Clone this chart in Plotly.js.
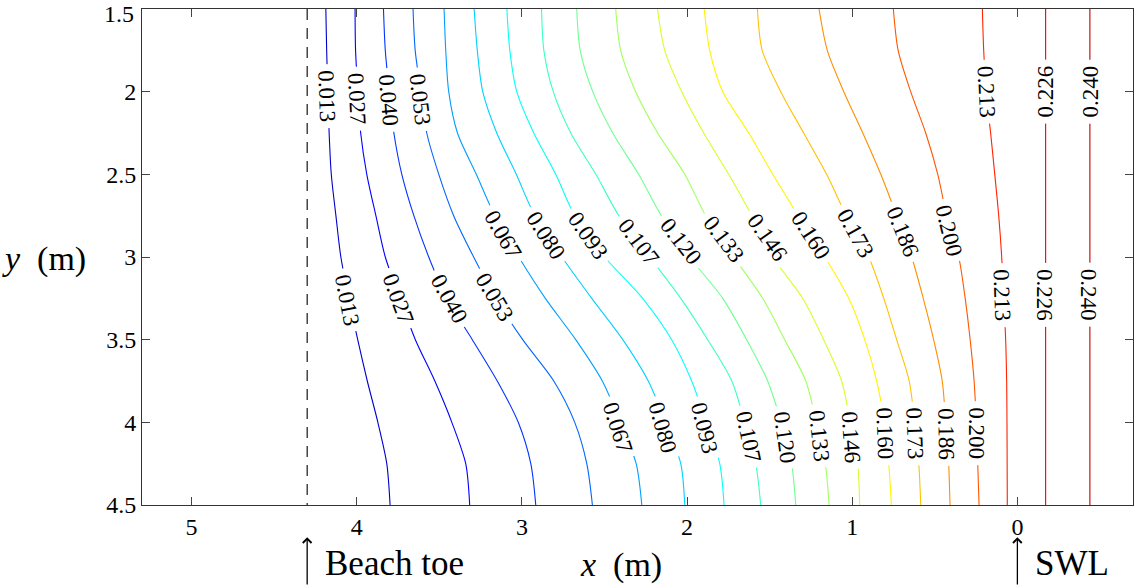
<!DOCTYPE html>
<html>
<head>
<meta charset="utf-8">
<script src="https://cdn.plot.ly/plotly-3.0.1.min.js"></script>
<style>html,body{margin:0;padding:0;background:#fff;}#chart{width:1134px;height:586px;}</style>
</head>
<body>
<div id="chart"></div>
<script>
// Contour levels
const levels = [0.013, 0.027, 0.040, 0.053, 0.067, 0.080, 0.093, 0.107, 0.120, 0.133, 0.146, 0.160, 0.173, 0.186, 0.200, 0.213, 0.226, 0.240];
// y positions (m) at which each contour's x (m) was read
const yGrid = [1.5, 1.75, 2.0, 2.25, 2.5, 2.75, 3.0, 3.25, 3.5, 3.75, 4.0, 4.25, 4.5];
// x (m) of each contour line at yGrid
const lineX = [
  [4.187, 4.182, 4.175, 4.167, 4.154, 4.126, 4.096, 4.048, 3.994, 3.936, 3.872, 3.818, 3.798],
  [4.010, 4.007, 3.993, 3.976, 3.939, 3.884, 3.827, 3.739, 3.645, 3.527, 3.424, 3.340, 3.316],
  [3.838, 3.827, 3.803, 3.775, 3.727, 3.654, 3.564, 3.455, 3.300, 3.149, 3.022, 2.946, 2.916],
  [3.659, 3.646, 3.612, 3.576, 3.503, 3.413, 3.292, 3.158, 2.995, 2.807, 2.680, 2.607, 2.573],
  [3.471, 3.461, 3.443, 3.390, 3.276, 3.164, 3.019, 2.858, 2.674, 2.513, 2.404, 2.308, 2.274],
  [3.289, 3.270, 3.237, 3.152, 3.034, 2.922, 2.758, 2.577, 2.389, 2.235, 2.129, 2.038, 2.014],
  [3.091, 3.073, 3.031, 2.928, 2.795, 2.680, 2.499, 2.269, 2.093, 1.972, 1.884, 1.802, 1.776],
  [2.881, 2.867, 2.810, 2.704, 2.552, 2.413, 2.226, 2.038, 1.875, 1.729, 1.651, 1.584, 1.554],
  [2.668, 2.647, 2.571, 2.450, 2.293, 2.156, 1.984, 1.784, 1.639, 1.512, 1.430, 1.367, 1.342],
  [2.432, 2.402, 2.311, 2.178, 2.014, 1.887, 1.717, 1.542, 1.409, 1.281, 1.217, 1.163, 1.140],
  [2.179, 2.135, 2.032, 1.899, 1.748, 1.608, 1.481, 1.300, 1.173, 1.064, 1.012, 0.967, 0.955],
  [1.896, 1.863, 1.784, 1.626, 1.481, 1.327, 1.166, 1.021, 0.924, 0.852, 0.806, 0.779, 0.763],
  [1.574, 1.545, 1.433, 1.294, 1.155, 1.036, 0.900, 0.809, 0.731, 0.655, 0.622, 0.597, 0.585],
  [1.201, 1.151, 1.051, 0.936, 0.827, 0.731, 0.640, 0.570, 0.507, 0.455, 0.434, 0.416, 0.408],
  [0.751, 0.722, 0.646, 0.555, 0.482, 0.428, 0.355, 0.316, 0.286, 0.262, 0.249, 0.240, 0.232],
  [0.212, 0.204, 0.189, 0.162, 0.137, 0.113, 0.095, 0.083, 0.071, 0.065, 0.063, 0.062, 0.061],
  [-0.171, -0.171, -0.171, -0.171, -0.171, -0.171, -0.171, -0.171, -0.171, -0.171, -0.171, -0.171, -0.171],
  [-0.439, -0.439, -0.439, -0.439, -0.439, -0.439, -0.439, -0.439, -0.439, -0.439, -0.439, -0.439, -0.439]
];
// Contour labels: level, position (m), rotation (deg)
const labelLevel = [0.013, 0.027, 0.040, 0.053, 0.213, 0.226, 0.240,
  0.013, 0.027, 0.040, 0.053, 0.067, 0.080, 0.093, 0.107, 0.120, 0.133, 0.146, 0.160, 0.173, 0.186, 0.200, 0.213, 0.226, 0.240,
  0.067, 0.080, 0.093, 0.107, 0.120, 0.133, 0.146, 0.160, 0.173, 0.186, 0.200];
const labelX = [4.181, 4.001, 3.810, 3.618, 0.188, -0.171, -0.444,
  4.056, 3.749, 3.441, 3.168, 3.114, 2.855, 2.599, 2.291, 2.038, 1.782, 1.513, 1.251, 0.979, 0.696, 0.414, 0.091, -0.165, -0.433,
  2.421, 2.149, 1.897, 1.625, 1.409, 1.197, 1.005, 0.803, 0.622, 0.432, 0.251];
const labelY = [2.029, 2.043, 2.049, 2.049, 1.999, 1.999, 1.999,
  3.261, 3.250, 3.250, 3.241, 2.861, 2.871, 2.867, 2.911, 2.908, 2.891, 2.881, 2.871, 2.857, 2.847, 2.837, 3.230, 3.230, 3.230,
  4.032, 4.032, 4.032, 4.089, 4.092, 4.083, 4.089, 4.068, 4.068, 4.068, 4.068];
const labelAngle = [88, 87, 85, 83, 87, -90, -90,
  79, 70, 61, 59, 60, 57, 55, 53, 52, 53, 55, 57, 61, 68, 76, 88, 90, 90,
  72, 74, 76, 78, 82, 84, 86, 88, 88, 89, 90];
// Reference positions
const beachToeX = 4.3;
const swlX = 0;
const yRange = [1.5, 4.5];
const xTicks = [5, 4, 3, 2, 1, 0];
const yTicks = [1.5, 2, 2.5, 3, 3.5, 4, 4.5];
const yTickText = ['1.5', '2', '2.5', '3', '3.5', '4', '4.5'];

function jet(t) {
  const c = v => Math.max(0, Math.min(1, v));
  const r = c(Math.min(4 * t - 1.5, -4 * t + 4.5));
  const g = c(Math.min(4 * t - 0.5, -4 * t + 3.5));
  const b = c(Math.min(4 * t + 0.5, -4 * t + 2.5));
  return 'rgb(' + Math.round(r * 255) + ',' + Math.round(g * 255) + ',' + Math.round(b * 255) + ')';
}
const cmin = -0.006, cmax = 0.255;

const traces = levels.map((lv, i) => ({
  type: 'scatter', mode: 'lines', x: lineX[i], y: yGrid,
  line: {color: jet((lv - cmin) / (cmax - cmin)), width: 1.1, shape: 'spline', smoothing: 0.8},
  hoverinfo: 'skip', showlegend: false
}));
traces.push({
  type: 'scatter', mode: 'lines', x: [beachToeX, beachToeX], y: yRange,
  line: {color: '#000', width: 1.1, dash: '11px,8px'}, hoverinfo: 'skip', showlegend: false
});

const serif = '"Liberation Serif", "Times New Roman", "DejaVu Serif", serif';
const annotations = labelLevel.map((lv, i) => ({
  x: labelX[i], y: labelY[i], xref: 'x', yref: 'y',
  text: '\u2009' + lv.toFixed(3) + '\u2009', textangle: labelAngle[i], showarrow: false,
  bgcolor: '#ffffff', borderpad: 1, xanchor: 'center', yanchor: 'middle',
  font: {family: serif, size: 23, color: '#000'}
}));
// top y tick label (placed as text so it stays inside the page)
annotations.push({xref: 'paper', yref: 'paper', x: -0.0073, y: 1.0188, xanchor: 'right', yanchor: 'top',
  text: yTickText[0], showarrow: false, borderpad: 0, font: {family: serif, size: 24, color: '#000'}});
// axis titles
annotations.push({xref: 'paper', yref: 'paper', x: -0.143, y: 0.496, xanchor: 'left', yanchor: 'middle',
  text: '<i>y</i>&nbsp; (m)', showarrow: false, font: {family: serif, size: 34, color: '#000'}});
annotations.push({xref: 'x', yref: 'paper', x: 2.401, y: -0.12, xanchor: 'center', yanchor: 'middle',
  text: '<i>x</i>&nbsp; (m)', showarrow: false, font: {family: serif, size: 34, color: '#000'}});
// Beach toe / SWL markers
[[beachToeX, 'Beach toe'], [swlX, 'SWL']].forEach(([xv, txt]) => {
  annotations.push({xref: 'x', yref: 'paper', x: xv, y: -0.065, ax: 0, ay: 60, axref: 'pixel', ayref: 'pixel',
    text: '', showarrow: true, arrowhead: 4, arrowsize: 1.3, arrowwidth: 1.3, arrowcolor: '#000'});
  annotations.push({xref: 'x', yref: 'paper', x: xv - 0.095, y: -0.118, xanchor: 'left', yanchor: 'middle',
    text: txt, showarrow: false, font: {family: serif, size: 35, color: '#000'}});
});

const axisCommon = {
  showline: true, linecolor: '#333', linewidth: 1, mirror: 'ticks', ticks: 'inside', ticklen: 8,
  tickcolor: '#444', tickwidth: 1, showgrid: false, zeroline: false,
  tickfont: {family: serif, size: 24, color: '#000'}
};
const layout = {
  width: 1134, height: 586, margin: {l: 142, r: 1, t: 9, b: 81, pad: 0},
  paper_bgcolor: '#fff', plot_bgcolor: '#fff', showlegend: false,
  font: {family: serif},
  xaxis: Object.assign({}, axisCommon, {range: [5.3, -0.7], tickvals: xTicks, ticktext: xTicks.map(String)}),
  yaxis: Object.assign({}, axisCommon, {range: [4.5, 1.5], tickvals: yTicks, ticktext: [''].concat(yTickText.slice(1))}),
  annotations: annotations
};
Plotly.newPlot('chart', traces, layout, {staticPlot: true, displayModeBar: false});
</script>
</body>
</html>
